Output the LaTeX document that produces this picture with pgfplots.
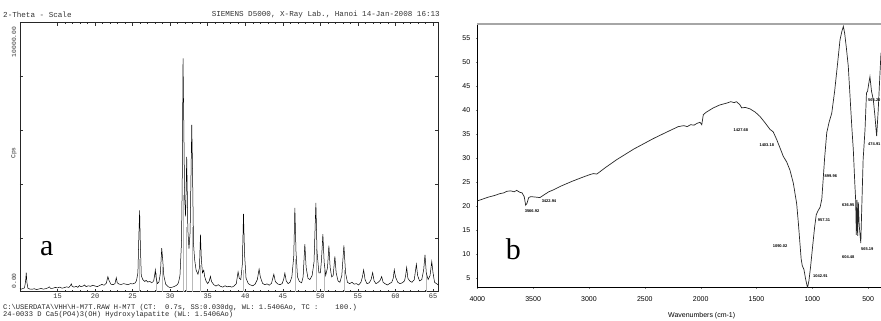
\documentclass[border=0pt]{standalone}
\usepackage{fontspec}
\setmainfont{Liberation Sans}
\setmonofont{Liberation Mono}
\newfontfamily\seriffont{Liberation Serif}
\usepackage{pgfplots}
\pgfplotsset{compat=1.18}
\begin{document}
\begin{tikzpicture}
\useasboundingbox (0pt,0pt) rectangle (881pt,321pt);
% ---------------- panel a : XRD ----------------
\begin{axis}[at={(20pt,29.3pt)}, anchor=south west, scale only axis,
  width=418.3pt, height=269pt,
  xmin=10, xmax=65.7, ymin=0, ymax=10000,
  scaled y ticks=false,
  xtick={15,20,...,65}, xticklabels={15,20,25,30,35,40,45,50,55,60,65},
  ytick={0,2000,4000,6000,8000,10000}, yticklabels={},
  minor x tick num=4,
  tick align=inside, major tick length=3pt, minor tick length=1.5pt,
  axis line style={line width=0.6pt, black!85},
  tick style={black!80, line width=0.5pt},
  tick label style={font=\ttfamily\fontsize{7}{7}\selectfont, text=black!80},
  xticklabel style={yshift=1.5pt},
  clip=true]
\addplot[ycomb, gray!55, line width=0.9pt, mark=none] coordinates {
(25.88,1200) (28.13,700) (28.97,900) (31.77,3600) (32.20,2400) (32.90,2400)
(34.05,1000) (39.82,800) (46.71,1200) (49.47,1600) (50.50,800) (53.14,800) (64.08,700)};
\addplot[black, line width=0.5pt, mark=none] coordinates {
(10.0,110) (10.2,95) (10.4,120) (10.6,140) (10.75,400) (10.83,710) (10.92,350) (11.05,130)
(11.3,100) (11.6,90) (11.9,110) (12.2,80) (12.5,100) (12.8,120) (13.1,95) (13.4,110)
(13.7,140) (13.9,180) (14.1,120) (14.4,130) (14.7,160) (15.0,140) (15.3,170) (15.6,130)
(15.9,150) (16.2,180) (16.5,160) (16.7,220) (16.83,290) (16.95,200) (17.2,170) (17.5,200)
(17.7,160) (17.9,230) (18.1,190) (18.4,210) (18.6,250) (18.8,190) (19.1,220) (19.4,200)
(19.7,240) (20.0,210) (20.3,190) (20.6,230) (20.9,270) (21.2,240) (21.5,320) (21.7,560)
(21.85,420) (22.1,280) (22.4,260) (22.65,300) (22.82,520) (22.95,330) (23.2,280) (23.5,270)
(23.8,300) (24.1,280) (24.4,260) (24.7,300) (25.0,290) (25.3,320) (25.5,400) (25.7,700)
(25.82,2000) (25.93,3020) (26.02,1800) (26.15,600) (26.35,450) (26.6,380) (26.8,420) (27.0,360)
(27.3,380) (27.55,330) (27.8,400) (27.95,650) (28.02,810) (28.12,520) (28.3,300) (28.5,360)
(28.7,700) (28.87,1620) (29.0,1200) (29.15,600) (29.4,280) (29.7,190) (30.0,150) (30.3,170)
(30.6,200) (30.9,250) (31.1,330) (31.3,600) (31.5,1800) (31.6,4000) (31.71,8670) (31.8,6500)
(31.92,3500) (32.05,2800) (32.2,5010) (32.35,2300) (32.5,1600) (32.65,2200) (32.78,4500) (32.87,6200)
(32.96,4800) (33.1,1800) (33.25,1200) (33.45,800) (33.7,650) (33.9,900) (34.03,2120) (34.15,1200)
(34.3,700) (34.47,800) (34.6,550) (34.8,380) (35.0,300) (35.2,400) (35.36,570) (35.5,380)
(35.8,260) (36.1,210) (36.4,260) (36.7,200) (37.0,170) (37.3,220) (37.6,180) (37.9,200)
(38.2,170) (38.5,210) (38.8,300) (39.04,740) (39.2,500) (39.4,450) (39.6,1000) (39.76,2890)
(39.9,1400) (40.1,500) (40.4,300) (40.7,250) (41.0,220) (41.3,280) (41.6,450) (41.84,840)
(42.0,550) (42.3,310) (42.6,260) (42.9,290) (43.2,240) (43.5,320) (43.8,650) (44.0,380)
(44.3,290) (44.6,260) (44.9,300) (45.1,450) (45.27,690) (45.45,400) (45.7,300) (45.95,350)
(46.2,550) (46.45,1300) (46.6,3120) (46.75,1500) (46.95,550) (47.2,380) (47.5,330) (47.7,550)
(47.93,1770) (48.1,900) (48.35,500) (48.6,450) (48.9,600) (49.15,1100) (49.4,3300) (49.55,1500)
(49.8,700) (50.0,700) (50.15,1200) (50.33,2140) (50.5,1100) (50.7,600) (50.95,900) (51.13,1710)
(51.3,900) (51.5,550) (51.7,600) (51.93,1310) (52.1,700) (52.35,400) (52.6,350) (52.85,600)
(53.13,1720) (53.35,700) (53.6,350) (53.9,300) (54.2,350) (54.5,280) (54.8,300) (55.1,250)
(55.4,350) (55.6,550) (55.76,810) (55.95,450) (56.2,300) (56.5,330) (56.75,450) (56.96,710)
(57.15,400) (57.4,300) (57.7,350) (57.95,420) (58.16,560) (58.35,350) (58.6,300) (58.9,250)
(59.2,300) (59.5,350) (59.7,500) (59.84,810) (60.0,550) (60.3,350) (60.6,300) (60.9,330)
(61.2,400) (61.35,600) (61.49,900) (61.65,500) (61.9,400) (62.2,350) (62.5,450) (62.78,1020)
(62.95,600) (63.2,400) (63.5,450) (63.75,800) (63.93,1370) (64.1,700) (64.35,450) (64.6,600)
(64.83,1120) (65.0,700) (65.2,350) (65.45,300) (65.7,250)};
\end{axis}
% texts of panel a
\node[anchor=west, font=\ttfamily\fontsize{7.6}{8}\selectfont, text=black!80, inner sep=0pt] at (3pt,306pt) {2-Theta - Scale};
\node[anchor=east, font=\ttfamily\fontsize{7.6}{8}\selectfont, text=black!80, inner sep=0pt] at (440pt,306pt) {SIEMENS D5000, X-Ray Lab., Hanoi 14-Jan-2008 16:13};
\node[rotate=90, font=\ttfamily\fontsize{6.3}{7}\selectfont, text=black!80, inner sep=0pt] at (14pt,40pt) {0.00};
\node[rotate=90, font=\ttfamily\fontsize{6.3}{7}\selectfont, text=black!80, inner sep=0pt] at (14pt,279pt) {10000.00};
\node[rotate=90, font=\ttfamily\fontsize{6.3}{7}\selectfont, text=black!80, inner sep=0pt] at (14pt,168pt) {Cps};
\node[anchor=west, font=\ttfamily\fontsize{7.1}{7.5}\selectfont, text=black!85, inner sep=0pt] at (3pt,13.8pt) {C:\textbackslash USERDATA\textbackslash VHH\textbackslash H-M7T.RAW H-M7T (CT:~~0.7s, SS:0.030dg, WL: 1.5406Ao, TC :~~~~100.)};
\node[anchor=west, font=\ttfamily\fontsize{7.1}{7.5}\selectfont, text=black!85, inner sep=0pt] at (3pt,6.3pt) {24-0033 D Ca5(PO4)3(OH) Hydroxylapatite (WL: 1.5406Ao)};
\node[font=\seriffont\fontsize{30}{30}\selectfont, inner sep=0pt] at (46.7pt,72pt) {a};
% ---------------- panel b : FTIR ----------------
\begin{axis}[at={(477.3pt,33.3pt)}, anchor=south west, scale only axis,
  width=403.7pt, height=263.7pt,
  x dir=reverse, xmin=385, xmax=4000, ymin=3, ymax=58,
  xtick={4000,3500,...,500}, ytick={5,10,...,55},
  xtick pos=bottom, ytick pos=left,
  tick align=outside, major tick length=1.5pt,
  axis line style={line width=1pt, black},
  tick label style={font=\fontsize{7}{8}\selectfont, /pgf/number format/assume math mode=true, /pgf/number format/1000 sep={}},
  xticklabel style={yshift=-4pt},
  yticklabel style={xshift=-2pt},
  clip=true]
\addplot[black!85, line width=0.7pt, mark=none] coordinates {
(4000,21.1) (3950,21.5) (3900,21.9) (3850,22.2) (3800,22.6) (3760,22.8) (3737,23.1) (3700,23.2)
(3670,23.0) (3647,23.3) (3620,22.9) (3600,22.8) (3580,22.0) (3567,20.2) (3555,20.6) (3540,21.8)
(3520,22.0) (3480,21.9) (3439,21.8) (3400,22.4) (3360,23.0) (3319,23.4) (3250,24.2) (3150,25.2)
(3050,26.1) (2991,26.6) (2960,26.8) (2930,26.7) (2901,27.2) (2850,28.1) (2752,29.7) (2600,31.9)
(2424,34.1) (2300,35.5) (2200,36.6) (2150,36.8) (2120,36.6) (2090,37.0) (2060,36.9) (2030,37.3)
(2006,37.5) (1990,37.0) (1976,39.1) (1950,39.6) (1887,40.5) (1830,41.1) (1767,41.5) (1730,41.8)
(1700,41.6) (1680,41.8) (1650,41.2) (1632,40.5) (1600,40.6) (1558,40.3) (1510,39.6) (1468,38.7)
(1420,37.3) (1378,36.0) (1350,35.5) (1319,33.9) (1290,32.2) (1260,30.4) (1229,29.2) (1200,27.5)
(1170,24.8) (1140,20.5) (1125,16.5) (1100,9.0) (1090,7.6) (1075,6.8) (1060,4.8) (1043,3.0)
(1030,4.5) (1015,7.5) (1000,11.0) (980,15.5) (965,18.2) (950,19.0) (930,19.8) (915,21.5)
(903,25.5) (890,30.0) (871,35.3) (850,37.5) (826,39.4) (800,44.0) (775,49.5) (752,54.7)
(735,56.5) (722,57.5) (710,56.0) (695,53.0) (678,49.2) (660,42.0) (645,36.0) (633,31.8)
(620,25.0) (612,21.3) (606,14.0) (600,21.3) (594,13.8) (588,20.8) (580,16.0) (566,12.3)
(556,20.7) (545,29.7) (528,36.0) (515,43.6) (505,44.0) (495,45.5) (484,47.0) (470,44.0)
(454,42.2) (440,39.0) (424,34.6) (410,40.0) (394,47.8) (385,52.0)};
\begin{scope}[every node/.style={font=\bfseries\fontsize{4}{4}\selectfont, inner sep=0pt}]
\node at (axis cs:3510,19.05) {3566.92};
\node at (axis cs:3358,21.0) {3422.94};
\node at (axis cs:1639,35.8) {1427.68};
\node at (axis cs:1408,32.7) {1403.18};
\node at (axis cs:1289,11.7) {1090.02};
\node at (axis cs:927,5.5) {1042.91};
\node at (axis cs:895,17.0) {957.31};
\node at (axis cs:834,26.2) {899.96};
\node at (axis cs:678,20.3) {636.95};
\node at (axis cs:678,9.4) {604.48};
\node at (axis cs:508,11.1) {565.19};
\node[anchor=east] at (axis cs:388,42.2) {565.20};
\node[anchor=east] at (axis cs:388,33.0) {474.91};
\end{scope}
\end{axis}
\draw[gray!70, line width=1.5pt] (477.3pt,297pt) -- (881pt,297pt);
\node[font=\fontsize{7}{8}\selectfont, inner sep=0pt] at (701.7pt,5.5pt) {Wavenumbers (cm-1)};
\node[font=\seriffont\fontsize{30}{30}\selectfont, inner sep=0pt] at (513.3pt,72pt) {b};
\end{tikzpicture}
\end{document}
